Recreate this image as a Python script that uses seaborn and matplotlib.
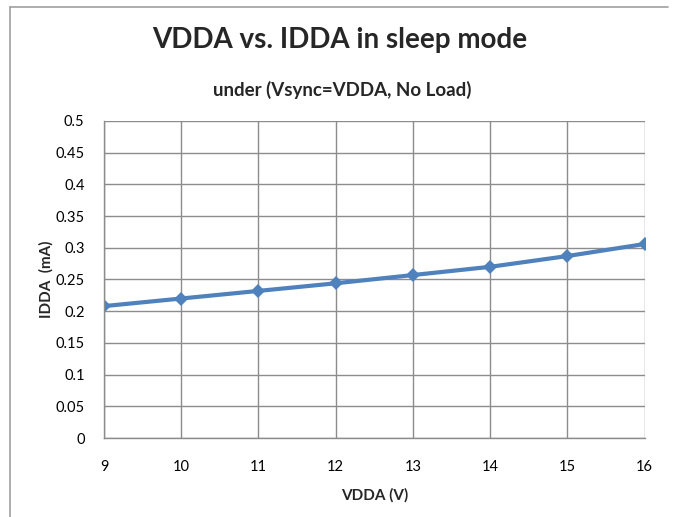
import matplotlib
matplotlib.use("Agg")
import pandas as pd
import seaborn as sns
from matplotlib import pyplot as plt
from matplotlib.lines import Line2D

# data
vdda = [9, 10, 11, 12, 13, 14, 15, 16]
idda = [0.208, 0.220, 0.232, 0.244, 0.257, 0.270, 0.287, 0.306]
y_ticks = [0, 0.05, 0.1, 0.15, 0.2, 0.25, 0.3, 0.35, 0.4, 0.45, 0.5]
y_labels = ["0", "0.05", "0.1", "0.15", "0.2", "0.25", "0.3", "0.35", "0.4", "0.45", "0.5"]

df = pd.DataFrame({"VDDA": vdda, "IDDA": idda})

sns.set_style("white")
plt.rcParams['font.family'] = ['Lato', 'DejaVu Sans']

fig = plt.figure(figsize=(6.73, 5.17), dpi=100)
ax = fig.add_axes([0.1545, 0.1528, 0.8035, 0.6132])

sns.lineplot(x="VDDA", y="IDDA", data=df, ax=ax, color="#4F81BD",
             linewidth=3, marker="D", markersize=7, markeredgewidth=0)

ax.set_xlim(9, 16)
ax.set_ylim(0, 0.5)
ax.set_xticks(vdda)
ax.set_xticklabels([str(v) for v in vdda])
ax.set_yticks(y_ticks)
ax.set_yticklabels(y_labels)
ax.grid(True, color="#8c8c8c", linewidth=1)
ax.tick_params(axis="both", labelsize=10.5, length=0, colors="black")
ax.tick_params(axis="x", pad=16)
ax.tick_params(axis="y", pad=14)
for s in ["top", "right"]:
    ax.spines[s].set_visible(False)
for s in ["left", "bottom"]:
    ax.spines[s].set_color("#8c8c8c")
    ax.spines[s].set_linewidth(1)

ax.set_xlabel("VDDA (V)", fontsize=11, fontweight="bold", labelpad=10)
ax.set_ylabel("IDDA  (mA)", fontsize=11, fontweight="bold", labelpad=1)

fig.text(0.505, 0.922, "VDDA vs. IDDA in sleep mode", ha="center", va="center",
         fontsize=20, fontweight="bold")
fig.text(0.509, 0.826, "under (Vsync=VDDA, No Load)", ha="center", va="center",
         fontsize=13.5, fontweight="bold")

# chart frame
fig.add_artist(Line2D([0.0149, 0.0149], [0, 0.986], color="#a0a0a0", linewidth=1.2))
fig.add_artist(Line2D([0.0149, 0.993], [0.986, 0.986], color="#a0a0a0", linewidth=1.2))

fig.savefig("out.png", dpi=100)
